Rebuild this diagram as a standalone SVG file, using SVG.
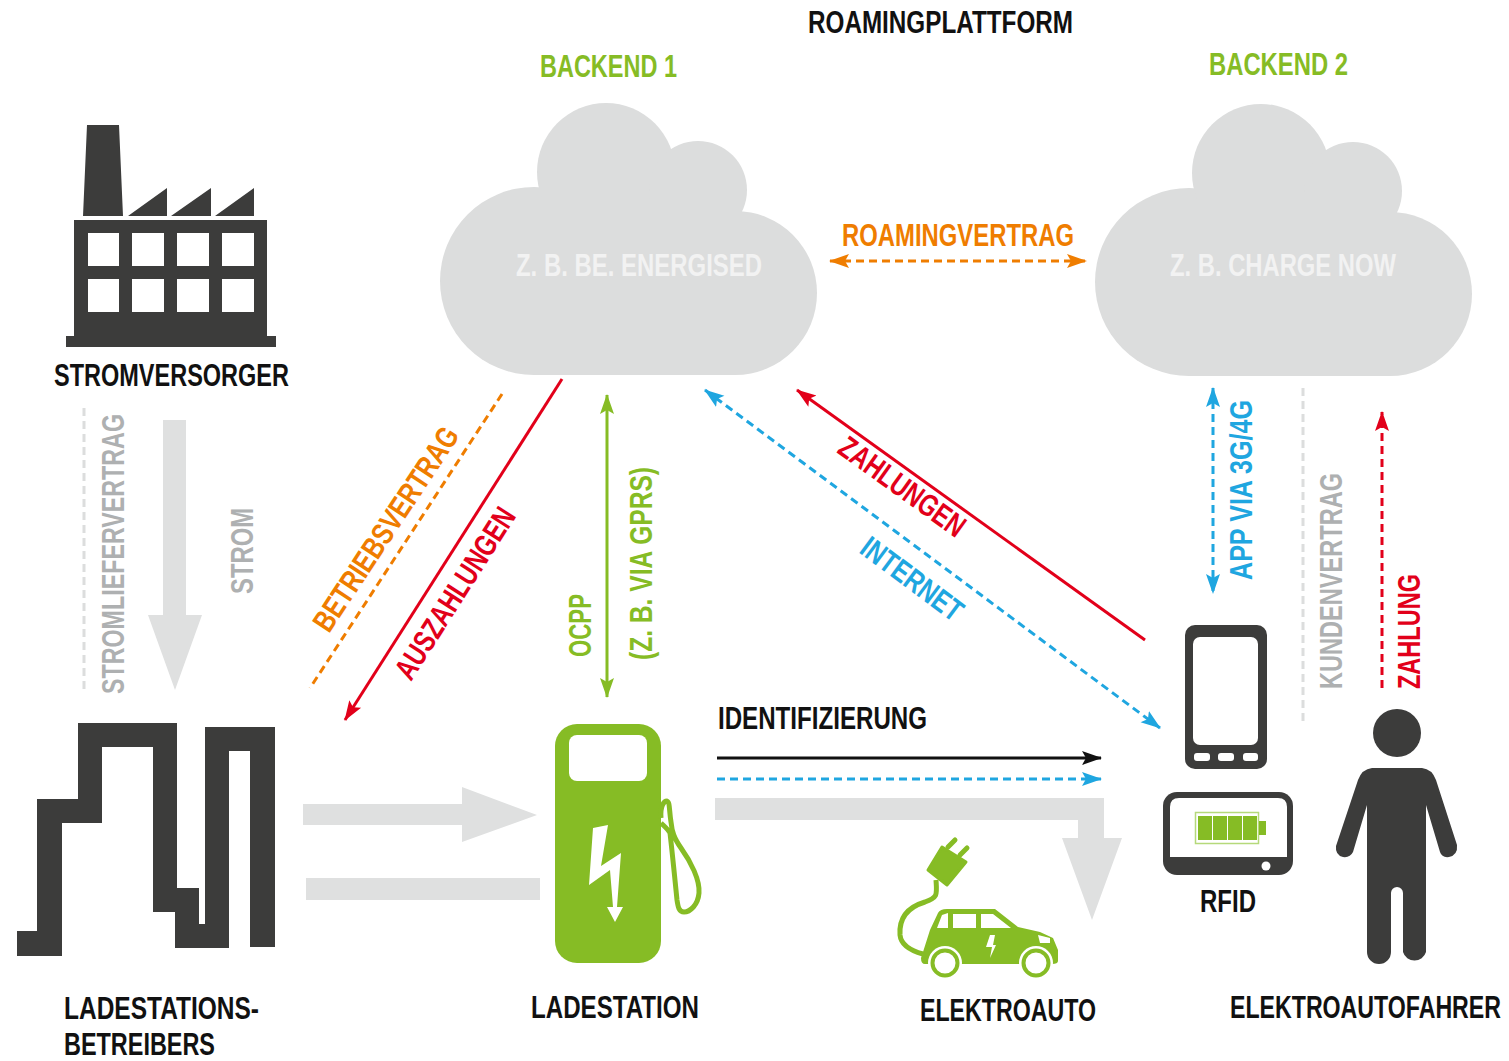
<svg xmlns="http://www.w3.org/2000/svg" width="1509" height="1061" viewBox="0 0 1509 1061">
<style>
text{font-family:"Liberation Sans Narrow","Liberation Sans",Arial,sans-serif;font-weight:700;font-size:31px}
.k{fill:#111}.g{fill:#86bc25}.y{fill:#aeb0b1}.r{fill:#e2001a}.b{fill:#1fa6e0}.o{fill:#ef7d00}.w{fill:#f2f2f2}
.dk{fill:#3c3c3b}.gn{fill:#86bc25}.cl{fill:#dcdddd}.wh{fill:#fff}.ga{fill:#dfe0e0}
.ln{fill:none;stroke-width:3}
</style>
<defs>
<marker id="mr" markerUnits="userSpaceOnUse" markerWidth="22" markerHeight="18" refX="19" refY="9" orient="auto-start-reverse"><path d="M0,2 L20,9 L0,16 L4,9Z" fill="#e2001a"/></marker>
<marker id="mb" markerUnits="userSpaceOnUse" markerWidth="22" markerHeight="18" refX="19" refY="9" orient="auto-start-reverse"><path d="M0,2 L20,9 L0,16 L4,9Z" fill="#1fa6e0"/></marker>
<marker id="mo" markerUnits="userSpaceOnUse" markerWidth="22" markerHeight="18" refX="19" refY="9" orient="auto-start-reverse"><path d="M0,2 L20,9 L0,16 L4,9Z" fill="#ef7d00"/></marker>
<marker id="mg" markerUnits="userSpaceOnUse" markerWidth="22" markerHeight="18" refX="19" refY="9" orient="auto-start-reverse"><path d="M0,2 L20,9 L0,16 L4,9Z" fill="#86bc25"/></marker>
<marker id="mk" markerUnits="userSpaceOnUse" markerWidth="22" markerHeight="18" refX="19" refY="9" orient="auto-start-reverse"><path d="M0,2 L20,9 L0,16 L4,9Z" fill="#111"/></marker>
<g id="cloud"><circle cx="534" cy="281" r="94"/><circle cx="735" cy="293" r="82"/><circle cx="606" cy="172" r="69"/><circle cx="698" cy="190" r="49"/><rect x="534" y="200" width="201" height="175"/></g>
</defs>
<text class="k" x="808" y="33" textLength="265" lengthAdjust="spacingAndGlyphs">ROAMINGPLATTFORM</text>

<g id="connectors">
<path class="ga" d="M163,420H186V615H202L175,690L148,615H163Z"/>
<path class="ga" d="M303,804H462V787L537,815L462,842V825H303Z"/>
<rect class="ga" x="306" y="878" width="234" height="22"/>
<path class="ga" d="M715,798H1104V838H1122L1092,920L1062,838H1078V820H715Z"/>
<path class="ln" d="M84,408V692" stroke="#dcdddd" stroke-dasharray="8 5"/>
<path class="ln" d="M1303,388V722" stroke="#dcdddd" stroke-dasharray="8 5"/>
<path class="ln" d="M717,758H1101" stroke="#111" marker-end="url(#mk)"/>
<path class="ln" d="M717,779H1101" stroke="#1fa6e0" stroke-dasharray="8 5" marker-end="url(#mb)"/>
<path class="ln" d="M830,261H1086" stroke="#ef7d00" stroke-dasharray="8 5" marker-start="url(#mo)" marker-end="url(#mo)"/>
<path class="ln" d="M607,395V697" stroke="#86bc25" marker-start="url(#mg)" marker-end="url(#mg)"/>
<path class="ln" d="M562,379L345,720" stroke="#e2001a" marker-end="url(#mr)"/>
<path class="ln" d="M502,394L310,688" stroke="#ef7d00" stroke-dasharray="8 5"/>
<path class="ln" d="M1145,640L797,390" stroke="#e2001a" marker-end="url(#mr)"/>
<path class="ln" d="M705,390L1160,728" stroke="#1fa6e0" stroke-dasharray="8 5" marker-start="url(#mb)" marker-end="url(#mb)"/>
<path class="ln" d="M1213,388V593" stroke="#1fa6e0" stroke-dasharray="8 5" marker-start="url(#mb)" marker-end="url(#mb)"/>
<path class="ln" d="M1382,688V412" stroke="#e2001a" stroke-dasharray="8 5" marker-end="url(#mr)"/>
<text class="o" x="842" y="246" textLength="232" lengthAdjust="spacingAndGlyphs">ROAMINGVERTRAG</text>
<text class="y" transform="translate(124,694) rotate(-90)" textLength="280" lengthAdjust="spacingAndGlyphs">STROMLIEFERVERTRAG</text>
<text class="y" transform="translate(253,594) rotate(-90)" textLength="86" lengthAdjust="spacingAndGlyphs">STROM</text>
<text class="y" transform="translate(1342,689) rotate(-90)" textLength="216" lengthAdjust="spacingAndGlyphs">KUNDENVERTRAG</text>
<text class="r" transform="translate(1420,689) rotate(-90)" textLength="115" lengthAdjust="spacingAndGlyphs">ZAHLUNG</text>
<text class="b" transform="translate(1252,580) rotate(-90)" textLength="180" lengthAdjust="spacingAndGlyphs">APP VIA 3G/4G</text>
<text class="g" transform="translate(591,657) rotate(-90)" textLength="63" lengthAdjust="spacingAndGlyphs">OCPP</text>
<text class="g" transform="translate(652,660) rotate(-90)" textLength="193" lengthAdjust="spacingAndGlyphs">(Z. B. VIA GPRS)</text>
<text class="o" transform="translate(329,634) rotate(-56.5)" textLength="238" lengthAdjust="spacingAndGlyphs">BETRIEBSVERTRAG</text>
<text class="r" transform="translate(411,682) rotate(-57.5)" textLength="197" lengthAdjust="spacingAndGlyphs">AUSZAHLUNGEN</text>
<text class="r" transform="translate(836,452) rotate(35.7)" textLength="148" lengthAdjust="spacingAndGlyphs">ZAHLUNGEN</text>
<text class="b" transform="translate(858,552) rotate(36.6)" textLength="119" lengthAdjust="spacingAndGlyphs">INTERNET</text>
<text class="k" x="718" y="729" textLength="209" lengthAdjust="spacingAndGlyphs">IDENTIFIZIERUNG</text>
</g>

<g id="backend1">
<use href="#cloud" class="cl"/>
<text class="g" x="540" y="77" textLength="137" lengthAdjust="spacingAndGlyphs">BACKEND 1</text>
<text class="w" x="516" y="276" textLength="246" lengthAdjust="spacingAndGlyphs">Z. B. BE. ENERGISED</text>
</g>
<g id="backend2">
<use href="#cloud" class="cl" x="655" y="1"/>
<text class="g" x="1209" y="75" textLength="139" lengthAdjust="spacingAndGlyphs">BACKEND 2</text>
<text class="w" x="1170" y="276" textLength="226" lengthAdjust="spacingAndGlyphs">Z. B. CHARGE NOW</text>
</g>

<g id="stromversorger">
<path class="dk" d="M87,125H119L123,216H83ZM128,216L167,188V216ZM171,216L211,188V216ZM215,216L254,188V216Z"/>
<path class="dk" fill-rule="evenodd" d="M74,220H267V336H276V347H66V336H74ZM88,233V266H119V233ZM132,233V266H164V233ZM177,233V266H209V233ZM222,233V266H254V233ZM88,279V312H119V279ZM132,279V312H164V279ZM177,279V312H209V279ZM222,279V312H254V279Z"/>
<text class="k" x="54" y="386" textLength="235" lengthAdjust="spacingAndGlyphs">STROMVERSORGER</text>
</g>

<g id="ladestationsbetreiber">
<path class="dk" d="M17,931H37V799H78V723H177V888H199V924H205V727H275V947H250V751H229V948H175V912H153V747H102V823H62V956H17Z"/>
<text class="k" x="64" y="1019" textLength="195" lengthAdjust="spacingAndGlyphs">LADESTATIONS-</text>
<text class="k" x="64" y="1055" textLength="151" lengthAdjust="spacingAndGlyphs">BETREIBERS</text>
</g>

<g id="ladestation">
<rect class="gn" x="555" y="724" width="106" height="239" rx="22"/>
<rect class="wh" x="569" y="735" width="78" height="46" rx="8"/>
<path class="wh" d="M593,828L608,825L601,866L621,853L617,907H623L615,922L607,907H613L610,870L589,885Z"/>
<path d="M661,818C660,806 664,801 667,801C670,802 669,810 671,822C672,832 674,838 681,848C691,862 700,880 699,893C698,905 690,912 684,912C679,912 678,907 677,900C675,880 672,850 670,833C668,829 664,826 661,823" fill="none" stroke="#86bc25" stroke-width="5" stroke-linejoin="round"/>
<text class="k" x="531" y="1018" textLength="168" lengthAdjust="spacingAndGlyphs">LADESTATION</text>
</g>

<g id="elektroauto">
<path d="M936,880C937,895 938,897 925,902C905,908 899,920 900,935C901,945 912,951 923,954" fill="none" stroke="#86bc25" stroke-width="5"/>
<path class="gn" d="M942,847L966,862L947,885L928,870Z" stroke="#86bc25" stroke-width="3" stroke-linejoin="round"/>
<path d="M948,847L955,840M960,855L967,848" stroke="#86bc25" stroke-width="5" stroke-linecap="round"/>
<path class="gn" d="M923,952L930,930L938,913Q940,909 947,909H995L1018,927L1040,932L1053,938L1058,950V961Q1058,964 1052,964H925Q921,964 921,958Z"/>
<path class="wh" d="M937,928L942,915L948,913V928ZM953,914H976V928H953ZM981,914H993L1011,928H981ZM1038,935L1050,938L1050,943L1040,943ZM990,935H995L993,945H996L990,958L992,947H986Z"/>
<circle class="wh" cx="945" cy="963" r="17"/><circle class="wh" cx="1036" cy="963" r="17"/>
<circle cx="945" cy="963" r="12.500" fill="#fff" stroke="#86bc25" stroke-width="4"/>
<circle cx="1036" cy="963" r="12.500" fill="#fff" stroke="#86bc25" stroke-width="4"/>
<text class="k" x="920" y="1021" textLength="176" lengthAdjust="spacingAndGlyphs">ELEKTROAUTO</text>
</g>

<g id="rfid">
<rect class="dk" x="1185" y="625" width="82" height="144" rx="10"/>
<rect class="wh" x="1193" y="637" width="65" height="108" rx="7"/>
<rect class="wh" x="1194" y="753" width="16" height="8" rx="3"/><rect class="wh" x="1218" y="753" width="16" height="8" rx="3"/><rect class="wh" x="1243" y="753" width="15" height="8" rx="3"/>
<rect class="dk" x="1163" y="792" width="130" height="83" rx="14"/>
<path class="wh" d="M1170,857V807Q1170,798 1179,798H1278Q1287,798 1287,807V857Z"/>
<circle class="wh" cx="1266" cy="866" r="4.500"/>
<rect x="1195.500" y="812.500" width="63" height="31" fill="#fff" stroke="#b5d97a" stroke-width="1.500"/>
<path class="gn" d="M1198,816H1212V840H1198ZM1213,816H1227V840H1213ZM1228,816H1242V840H1228ZM1243,816H1257V840H1243ZM1259,821H1266V835H1259Z"/>
<text class="k" x="1200" y="912" textLength="56" lengthAdjust="spacingAndGlyphs">RFID</text>
</g>

<g id="elektroautofahrer">
<circle class="dk" cx="1397" cy="733" r="24"/>
<path class="dk" d="M1372,768H1422Q1432,769 1436,780L1457,845Q1458,855 1449,857Q1442,858 1440,852L1426,805V952A12,12 0 0 1 1403,952V893A6,6 0 0 0 1391,893V952A12,12 0 0 1 1367,952V805L1353,852Q1350,858 1343,857Q1335,855 1336,846L1358,780Q1362,769 1372,768Z"/>
<text class="k" x="1230" y="1018" style="font-size:28px" transform="translate(0,-101.800) scale(1,1.100)" textLength="271" lengthAdjust="spacingAndGlyphs">ELEKTROAUTOFAHRER</text>
</g>
</svg>
